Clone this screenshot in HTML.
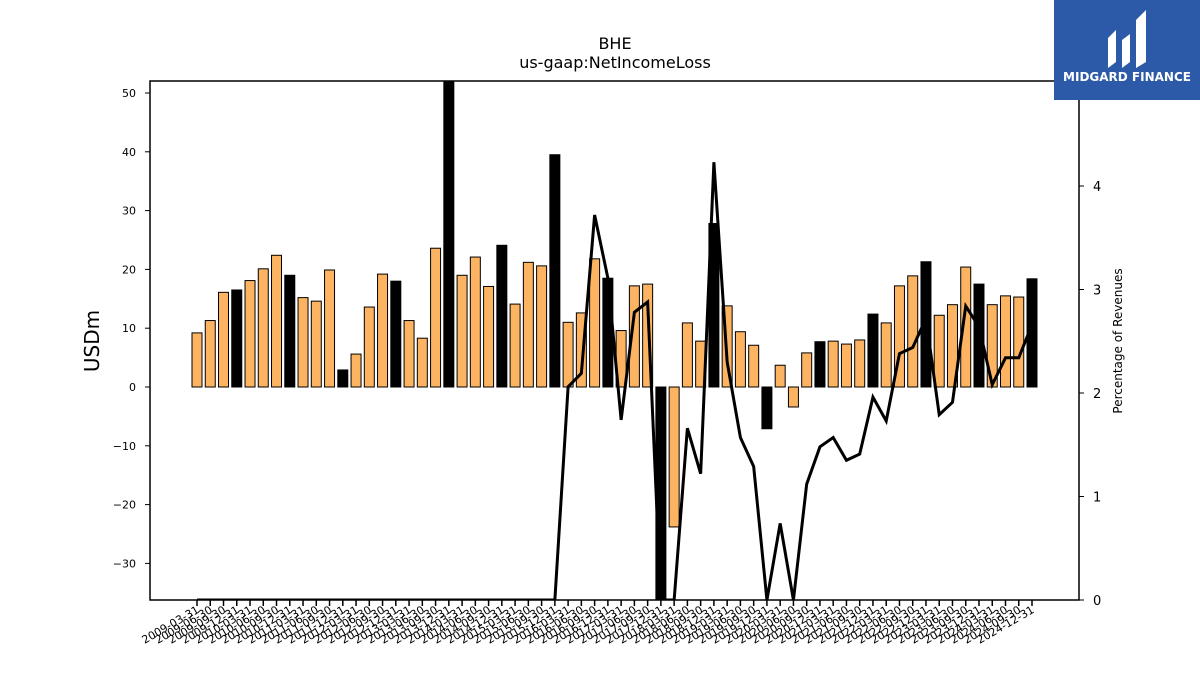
<!DOCTYPE html>
<html><head><meta charset="utf-8"><style>
body{margin:0;background:#fff;width:1200px;height:675px;overflow:hidden;font-family:"Liberation Sans","DejaVu Sans",sans-serif}
</style></head><body>
<svg id="chart" width="1200" height="675" xmlns="http://www.w3.org/2000/svg" font-family="DejaVu Sans, Liberation Sans, sans-serif">
<defs><clipPath id="plotclip"><rect x="150" y="81" width="929" height="519"/></clipPath></defs>
<text x="615" y="49" text-anchor="middle" font-size="16">BHE</text>
<text x="615" y="68" text-anchor="middle" font-size="16">us-gaap:NetIncomeLoss</text>
<text transform="translate(99,341) rotate(-90)" text-anchor="middle" font-size="20">USDm</text>
<text transform="translate(1122,341) rotate(-90)" text-anchor="middle" font-size="12">Percentage of Revenues</text>
<g id="bars" clip-path="url(#plotclip)"></g>
<g id="line" clip-path="url(#plotclip)"></g>
<g id="axes"></g>
<rect x="150" y="81" width="929" height="519" fill="none" stroke="#000" stroke-width="1.5"/>
<g>
<rect x="1054" y="0" width="146" height="100" fill="#2d5aa8"/>
<path d="M1108 68 L1108 38 L1116 30 L1116 62 Z M1122 68 L1122 40 L1130 34 L1130 62 Z M1136 68 L1136 20 L1146 10 L1146 62 Z" fill="#fff"/>
<text x="1127" y="81" text-anchor="middle" font-size="12" font-weight="bold" fill="#fff">MIDGARD FINANCE</text>
</g>
</svg>
<script>
const categories=[];
for(let y=2009;y<=2024;y++){for(const d of ["03-31","06-30","09-30","12-31"])categories.push(y+"-"+d);}
const netIncome=[9.2,11.3,16.1,16.5,18.1,20.1,22.4,19.0,15.2,14.6,19.9,2.9,5.6,13.6,19.2,18.0,11.3,8.3,23.6,60,19.0,22.1,17.1,24.1,14.1,21.2,20.6,39.5,11.0,12.6,21.8,18.5,9.6,17.2,17.5,-40,-23.8,10.9,7.8,27.8,13.8,9.4,7.1,-7.1,3.7,-3.4,5.8,7.7,7.8,7.3,8.0,12.4,10.9,17.2,18.9,21.3,12.2,14.0,20.4,17.5,14.0,15.5,15.3,18.4];
const pctRevenue=[0,0,0,0,0,0,0,0,0,0,0,0,0,0,0,0,0,0,0,0,0,0,0,0,0,0,0,0,2.06,2.19,3.72,3.11,1.74,2.78,2.88,0,0,1.66,1.22,4.23,2.30,1.57,1.29,0,0.74,0,1.12,1.48,1.57,1.35,1.41,1.96,1.73,2.38,2.44,2.72,1.79,1.91,2.84,2.64,2.08,2.34,2.34,2.66];
const leftTicks=[-30,-20,-10,0,10,20,30,40,50];
const rightTicks=[0,1,2,3,4];
const NS="http://www.w3.org/2000/svg";
const x=i=>197+i*(1032-197)/(categories.length-1);
const yL=v=>387-v*5.88;
const yR=v=>600-v*103.5;
function mk(t,a,p){const e=document.createElementNS(NS,t);for(const k in a)e.setAttribute(k,a[k]);p.appendChild(e);return e;}
const bars=document.getElementById('bars'),axes=document.getElementById('axes'),line=document.getElementById('line');
netIncome.forEach((v,i)=>{
 const black=i%4===3;
 const y0=yL(0),y1=yL(v);
 const r=mk('rect',{x:x(i)-5,y:Math.min(y0,y1),width:10,height:Math.abs(y1-y0),fill:black?'#000':'#fdb462',stroke:'#000','stroke-width':1},bars);
 
 
});
const pl=mk('polyline',{points:pctRevenue.map((v,i)=>x(i)+','+yR(v)).join(' '),fill:'none',stroke:'#000','stroke-width':3,'stroke-linejoin':'miter'},line);


leftTicks.forEach(v=>{
 mk('line',{x1:145,x2:150,y1:yL(v),y2:yL(v),stroke:'#000'},axes);
 const t=mk('text',{x:136,y:yL(v)+4,'text-anchor':'end','font-size':11},axes);t.textContent=v<0?'\u2212'+(-v):v;
 
 
});
rightTicks.forEach(v=>{
 mk('line',{x1:1079,x2:1084,y1:yR(v),y2:yR(v),stroke:'#000'},axes);
 const t=mk('text',{x:1093,y:yR(v)+5,'font-size':13},axes);t.textContent=v;
 
 
});
categories.forEach((c,i)=>{
 mk('line',{x1:x(i),x2:x(i),y1:600,y2:606,stroke:'#000','stroke-width':1.5},axes);
 const t=mk('text',{transform:`translate(${x(i)+3},612) rotate(-30)`,'text-anchor':'end','font-size':11},axes);t.textContent=c;
 
 
});
</script>
</body></html>
